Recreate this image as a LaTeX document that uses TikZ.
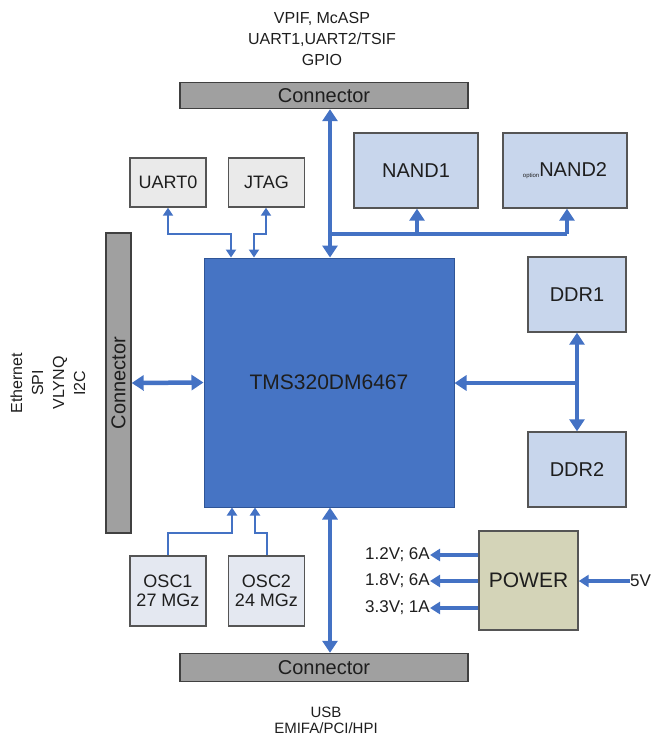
\documentclass[tikz,border=0pt]{standalone}
\usepackage{fontspec}
\setmainfont{Liberation Sans}
\usetikzlibrary{arrows.meta}
\definecolor{chipblue}{RGB}{70,116,196}
\definecolor{chipedge}{RGB}{47,85,151}
\definecolor{arrblue}{RGB}{68,114,196}
\definecolor{lblue}{RGB}{200,214,236}
\definecolor{lgray}{RGB}{234,234,234}
\definecolor{oscfill}{RGB}{228,232,241}
\definecolor{connfill}{RGB}{160,160,160}
\definecolor{pwrfill}{RGB}{212,212,184}
\definecolor{edgegray}{RGB}{85,85,85}
\definecolor{txt}{RGB}{30,30,30}
\tikzset{
  fs/.style={font=\fontsize{#1}{#1}\selectfont},
  boxbase/.style={draw=edgegray, line width=1.4pt, inner sep=0pt, text=txt, align=center},
  conn/.style={boxbase, fill=connfill, draw=black!75, fs=20},
  smallbox/.style={boxbase, fill=lgray, minimum width=76pt, minimum height=49pt, fs=18},
  memboxl/.style={boxbase, fill=lblue, fs=20},
  oscbox/.style={boxbase, fill=oscfill, minimum width=76pt, minimum height=70pt, fs=18},
  bigarr/.style={draw=arrblue, line width=4.5pt, arrows={-Triangle[width=15pt,length=12pt]}},
  bigarrb/.style={draw=arrblue, line width=4.5pt, arrows={Triangle[width=15pt,length=12pt]-Triangle[width=15pt,length=12pt]}},
  bigline/.style={draw=arrblue, line width=4.5pt},
  thinarrb/.style={draw=arrblue, line width=2.2pt, arrows={Triangle[width=10pt,length=8pt]-Triangle[width=10pt,length=8pt]}},
  thinarr/.style={draw=arrblue, line width=2.2pt, arrows={-Triangle[width=10pt,length=8pt]}},
  pwrarr/.style={draw=arrblue, line width=3.5pt, arrows={-Triangle[width=12pt,length=10pt]}},
  lbl/.style={text=txt, align=center, inner sep=0pt},
}
\begin{document}
\begin{tikzpicture}[x=1pt,y=-1pt]
\useasboundingbox (0,0) rectangle (655,737);
% connectors
\node[conn, minimum width=288pt, minimum height=26pt] (topconn) at (324,95.5) {Connector};
\node[conn, minimum width=288pt, minimum height=28pt] (botconn) at (324,667.5) {Connector};
\node[conn, minimum width=300pt, minimum height=25pt, rotate=90] (leftconn) at (118.5,383) {Connector};
% chip
\node[draw=chipedge, fill=chipblue, line width=1pt, minimum width=250pt, minimum height=249pt, text=txt, fs=21] (chip) at (329,382.5) {TMS320DM6467};
% small boxes
\node[smallbox] (uart0) at (168,182.5) {UART0};
\node[smallbox] (jtag) at (266.5,182.5) {JTAG};
\node[memboxl, minimum width=124pt, minimum height=75pt] (nand1) at (416,170.5) {NAND1};
\node[memboxl, minimum width=124pt, minimum height=75pt] (nand2) at (565,170.5) {\raisebox{-1pt}{\fontsize{6}{6}\selectfont option}NAND2};
\node[memboxl, minimum width=98pt, minimum height=75pt] (ddr1) at (577,294.5) {DDR1};
\node[memboxl, minimum width=98pt, minimum height=75pt] (ddr2) at (577,469.5) {DDR2};
\node[oscbox] (osc1) at (168,591) {OSC1\\[1pt]27 MGz};
\node[oscbox] (osc2) at (266.5,591) {OSC2\\[1pt]24 MGz};
\node[boxbase, fill=pwrfill, minimum width=99pt, minimum height=99pt, fs=21] (power) at (528.5,580.5) {POWER};
% labels
\node[lbl, fs=16] (toptxt) at (322,39) {VPIF, McASP\\[5pt]UART1,UART2/TSIF\\[5pt]GPIO};
\node[lbl, fs=15] (bottxt) at (326,720) {USB\\[1pt]EMIFA/PCI/HPI};
\node[lbl, fs=16, rotate=90] (lefttxt) at (48,383) {Ethernet\\[5pt]SPI\\[5pt]VLYNQ\\[5pt]I2C};
% coordinates
\coordinate (tx) at (330,0);
\coordinate (br1) at (330,234);
\coordinate (br2) at (567,234);
\coordinate (n1x) at (417,234);
\coordinate (dx) at (577,383);
\coordinate (u1) at (168,234);
\coordinate (u2) at (231,234);
\coordinate (j1) at (266,234);
\coordinate (j2) at (254,234);
\coordinate (o1) at (168,533);
\coordinate (o2) at (232,533);
\coordinate (o3) at (267,533);
\coordinate (o4) at (255,533);
\coordinate (p1) at (430,555);
\coordinate (p2) at (430,581);
\coordinate (p3) at (430,608);
\coordinate (v5) at (630,581);
% big arrows
\draw[bigarrb] (topconn.south -| tx) -- (chip.north -| tx);
\draw[bigline] (br1) -- (br2);
\draw[bigarr] (n1x) -- (nand1.south -| n1x);
\draw[bigarr] (br2) -- (nand2.south -| br2);
\draw[bigarrb] (leftconn.south) -- (chip.west);
\draw[bigarrb] (ddr1.south) -- (ddr2.north);
\draw[bigarr] (dx) -- (chip.east |- dx);
\draw[bigarrb] (chip.south -| tx) -- (botconn.north -| tx);
% thin arrows
\draw[thinarrb] (uart0.south) -- (u1) -- (u2) -- (chip.north -| u2);
\draw[thinarrb] (jtag.south -| j1) -- (j1) -- (j2) -- (chip.north -| j2);
\draw[thinarr] (osc1.north) -- (o1) -- (o2) -- (chip.south -| o2);
\draw[thinarr] (osc2.north -| o3) -- (o3) -- (o4) -- (chip.south -| o4);
% power
\draw[pwrarr] (power.west |- p1) -- (p1);
\draw[pwrarr] (power.west |- p2) -- (p2);
\draw[pwrarr] (power.west |- p3) -- (p3);
\draw[pwrarr] (v5) -- (power.east |- v5);
\node[lbl, fs=17, anchor=east] (l1) at (p1) {1.2V; 6A};
\node[lbl, fs=17, anchor=east] (l2) at (p2) {1.8V; 6A};
\node[lbl, fs=17, anchor=east] (l3) at (p3) {3.3V; 1A};
\node[lbl, fs=17, anchor=west] (l5) at (v5) {5V};
\end{tikzpicture}
\end{document}
